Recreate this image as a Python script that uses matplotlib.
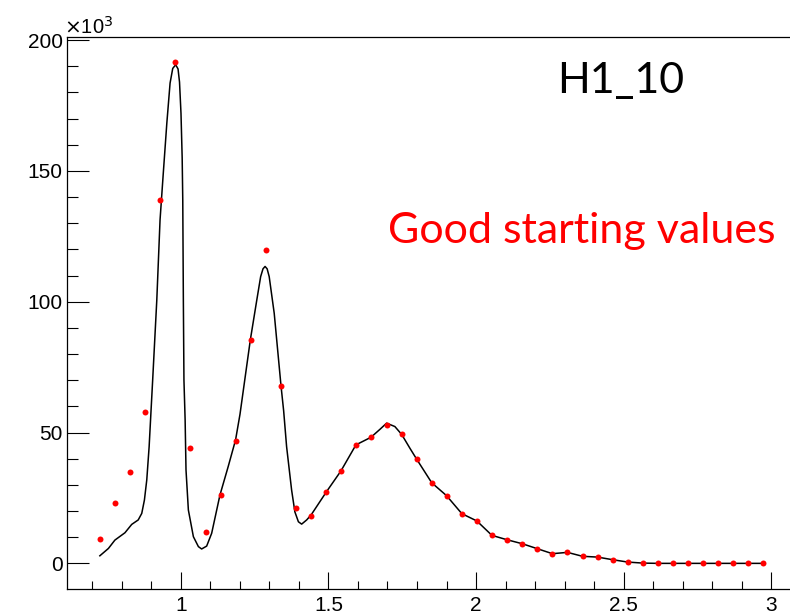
import numpy as np
import matplotlib
matplotlib.use("Agg")
import matplotlib.pyplot as plt
from matplotlib.ticker import MultipleLocator

# ---- data (counts in units of 10^3) ----
bin_edges = np.linspace(0.7, 3.0, 46)
counts = [9.4, 23.2, 34.9, 58.0, 138.8, 191.5, 44.0, 11.9, 26.2, 46.9,
          85.4, 119.6, 67.9, 21.0, 18.2, 27.2, 35.3, 45.1, 48.2, 52.9,
          49.3, 39.8, 30.7, 25.9, 19.0, 16.2, 10.7, 9.0, 7.5, 5.6,
          3.7, 4.2, 2.7, 2.4, 1.4, 0.5, 0.1, 0.0, 0.0, 0.0,
          0.0, 0.0, 0.0, 0.0, 0.0]

# fit curve
fit_x = [0.725, 0.754, 0.776, 0.810, 0.833, 0.855, 0.867, 0.876, 0.884, 0.892,
         0.898, 0.904, 0.918, 0.929, 0.940, 0.952, 0.963, 0.972, 0.982, 0.990,
         0.995, 1.000, 1.004, 1.006, 1.008, 1.010, 1.014, 1.017, 1.025, 1.042,
         1.059, 1.070, 1.087, 1.104, 1.132, 1.160, 1.185, 1.200, 1.235, 1.257,
         1.270, 1.278, 1.285, 1.292, 1.299, 1.316, 1.339, 1.348, 1.358, 1.375,
         1.386, 1.398, 1.409, 1.426, 1.441, 1.492, 1.542, 1.593, 1.644, 1.675,
         1.697, 1.725, 1.748, 1.776, 1.799, 1.850, 1.900, 1.952, 2.003, 2.054,
         2.106, 2.157, 2.208, 2.259, 2.310, 2.361, 2.412, 2.463, 2.514, 2.566,
         2.617, 2.974]
fit_y = [2.9, 5.7, 8.9, 11.7, 14.9, 16.6, 19.1, 24.2, 31.9, 44.6,
         57.4, 70.1, 100.7, 131.3, 149.2, 168.3, 183.6, 189.2, 190.6, 189.0,
         184.0, 172.0, 155.0, 138.9, 100.7, 70.1, 54.9, 35.7, 20.4, 10.2,
         6.4, 5.5, 6.6, 11.5, 26.1, 37.0, 47.2, 57.0, 85.4, 100.7,
         109.6, 112.6, 113.5, 112.6, 109.6, 95.6, 67.9, 58.3, 44.6, 28.0,
         19.7, 15.9, 15.0, 16.6, 18.5, 27.2, 35.3, 45.3, 48.2, 51.3,
         53.6, 52.3, 49.3, 44.0, 39.8, 30.8, 25.9, 19.0, 16.2, 10.7,
         9.0, 7.5, 5.6, 3.7, 4.2, 2.7, 2.4, 1.4, 0.5, 0.1,
         0.0, 0.0]

hist_name = "H1_10"
note = "Good starting values"

# ---- plot ----
plt.rcParams['font.family'] = ['Liberation Sans', 'DejaVu Sans']

fig = plt.figure(figsize=(7.9, 6.14), dpi=100)
ax = fig.add_axes([67/790, 1 - 589/614, (796 - 67)/790, (589 - 37.3)/614])

centers = 0.5 * (bin_edges[:-1] + bin_edges[1:])
ax.plot(fit_x, fit_y, color='black', lw=1.1, zorder=2)
ax.plot(centers, counts, 'o', color='red', ms=4.3, mec='none', zorder=3)

ax.set_xlim(0.6136, 3.0847)
ax.set_ylim(-9.8, 201.1)
ax.xaxis.set_minor_locator(MultipleLocator(0.1))
ax.yaxis.set_major_locator(MultipleLocator(50))
ax.yaxis.set_minor_locator(MultipleLocator(10))
ax.set_xticks([1, 1.5, 2, 2.5, 3])
ax.set_xticklabels(['1', '1.5', '2', '2.5', '3'])

ax.tick_params(axis='both', which='both', direction='in', width=0.8,
               labelsize=15, top=False, right=False)
ax.tick_params(axis='x', which='major', length=12, pad=5)
ax.tick_params(axis='x', which='minor', length=5.5)
ax.tick_params(axis='y', which='major', length=16, pad=3)
ax.tick_params(axis='y', which='minor', length=8)
for s in ax.spines.values():
    s.set_linewidth(0.9)

fig.text(64/790, 1 - 34/614, r'$\times$10$^{3}$', fontsize=14.5, va='baseline', ha='left')
fig.text(557/790, 1 - 93/614, hist_name, fontsize=31, family='Lato',
         va='baseline', ha='left')
fig.text(388/790, 1 - 243/614, note, fontsize=31, family='Lato', color='red',
         va='baseline', ha='left')

fig.savefig('out.png', dpi=100)
